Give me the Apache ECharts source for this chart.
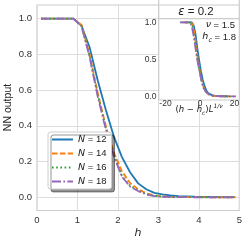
<!DOCTYPE html>
<html><head><meta charset="utf-8">
<script src="https://cdn.jsdelivr.net/npm/echarts@6/dist/echarts.min.js"></script>
<style>html,body{margin:0;padding:0;background:#fff}#c{width:249px;height:249px}</style>
</head><body><div id="c"></div>
<script>
// ---- data ----
const hValues = [0.1,0.3,0.5,0.7,0.9,1.1,1.3,1.5,1.7,1.9,2.1,2.3,2.5,2.7,2.9,3.1,3.3,3.5,3.7,3.9,4.1,4.3,4.5,4.7,4.9];
const n12 = [1,1,1,1,1,0.96,0.84,0.655,0.49,0.34,0.225,0.14,0.078,0.045,0.025,0.016,0.01,0.007,0.005,0.003,0.002,0.002,0.001,0.001,0.001];
const n14 = [1,1,1,1,1,0.965,0.8,0.585,0.4,0.25,0.145,0.08,0.045,0.022,0.01,0.005,0.003,0.002,0.001,0.001,0.001,0,0,0,0];
const n16 = [1,1,1,1,1,0.962,0.79,0.575,0.39,0.235,0.12,0.065,0.038,0.018,0.008,0.004,0.002,0.001,0.001,0.001,0,0,0,0,0];
const n18 = [1,1,1,1,1,0.958,0.785,0.565,0.38,0.23,0.115,0.06,0.035,0.016,0.007,0.003,0.002,0.001,0.001,0,0,0,0,0,0];
const sizes = [12,14,16,18];
const nu = 1.5;
const hc = 1.8;
const epsilon = 0.2;
const mainXTicks = [0,1,2,3,4,5];
const mainYTicks = [0.0,0.2,0.4,0.6,0.8,1.0];
const insetXTicks = [-20,0,20];
const insetYTicks = [0.0,0.5,1.0];

const allY = [n12,n14,n16,n18];
const colors = ['#1f77b4','#ff7f0e','#2ca02c','#9467bd'];
const LW = 1.8;
const dashes = ['solid',[5.5,2.4],[1.6,2.6],[9,2.4,1.6,2.4]];
const FF = 'Liberation Sans, Arial, sans-serif';
const MF = 'DejaVu Sans';

const series = [];
sizes.forEach((L,i)=>{
  series.push({
    name:'N'+L, type:'line', xAxisIndex:1, yAxisIndex:1,
    data: hValues.map((h,k)=>[h, allY[i][k]]),
    symbol:'none', showSymbol:false, clip:false, z:2,
    lineStyle:{color:colors[i], width:LW, type:dashes[i]}, itemStyle:{color:colors[i]}
  });
});
sizes.forEach((L,i)=>{
  const s = Math.pow(L, 1/nu);
  series.push({
    name:'N'+L, type:'line', xAxisIndex:2, yAxisIndex:2,
    data: hValues.map((h,k)=>[(h-hc)*s, allY[i][k]]),
    symbol:'none', showSymbol:false, clip:false, z:10,
    lineStyle:{color:colors[i], width:LW, type:dashes[i]}, itemStyle:{color:colors[i]}
  });
});

const chart = echarts.init(document.getElementById('c'), null, {renderer:'canvas'});
chart.setOption({
  animation:false,
  backgroundColor:'#fff',
  grid:[
    {left:37, right:9.7, top:5, bottom:38.5, show:true, borderColor:'#cccccc', borderWidth:1.2},
    {left:37, right:9.7, top:18.7, bottom:51.7},
    {left:165.5, right:14.5, top:22.4, bottom:152.7}
  ],
  xAxis:[
    {gridIndex:0, type:'value', min:mainXTicks[0], max:mainXTicks[mainXTicks.length-1], interval:1,
     axisLine:{show:false}, axisTick:{show:false},
     splitLine:{lineStyle:{color:'#dddddd', width:1}},
     axisLabel:{fontSize:9.5, color:'#333', margin:5, fontFamily:FF}},
    {gridIndex:1, type:'value', min:0, max:5, show:false},
    {gridIndex:2, type:'value', min:insetXTicks[0], max:insetXTicks[2], interval:20, z:10,
     axisLine:{show:false}, axisTick:{show:false}, splitLine:{show:false},
     axisLabel:{fontSize:8.5, color:'#333', margin:2.5, fontFamily:FF}}
  ],
  yAxis:[
    {gridIndex:0, type:'value', min:0, max:1, show:false},
    {gridIndex:1, type:'value', min:mainYTicks[0], max:mainYTicks[5], interval:0.2,
     axisLine:{show:false}, axisTick:{show:false},
     splitLine:{lineStyle:{color:'#dddddd', width:1}},
     axisLabel:{fontSize:9.5, color:'#333', margin:5, fontFamily:FF, formatter:v=>v.toFixed(1)}},
    {gridIndex:2, type:'value', min:insetYTicks[0], max:insetYTicks[2], interval:0.5, z:10,
     axisLine:{show:false}, axisTick:{show:false}, splitLine:{show:false},
     axisLabel:{fontSize:8.5, color:'#333', margin:9, fontFamily:FF, formatter:v=>v.toFixed(1)}}
  ],
  legend:{
    orient:'vertical', left:48, top:132, padding:[2,5,2,3], itemGap:3,
    itemWidth:21, itemHeight:10, backgroundColor:'#fff', borderColor:'#cccccc', borderWidth:1,
    borderRadius:2.5, shadowColor:'rgba(0,0,0,0.42)', shadowOffsetX:3, shadowOffsetY:3, shadowBlur:0,
    itemStyle:{opacity:0},
    data: sizes.map(L=>'N'+L),
    formatter: n => '{i|N} = ' + n.slice(1),
    textStyle:{fontSize:9.5, color:'#222', fontFamily:FF, lineHeight:11,
      rich:{i:{fontStyle:'italic', fontFamily:MF, fontSize:9.5, lineHeight:11}}}
  },
  graphic:[
    {type:'rect', z:5, shape:{x:158.7, y:-2, width:80.6, height:102}, style:{fill:'#fff', stroke:'#cccccc', lineWidth:1.2}},
    {type:'line', z:6, shape:{x1:158.7, y1:5, x2:239.3, y2:5}, style:{stroke:'#cccccc', lineWidth:1.2}},
    {type:'line', z:6, shape:{x1:158.7, y1:18.7, x2:239.3, y2:18.7}, style:{stroke:'#cccccc', lineWidth:1.2}},
    {type:'text', z:11, x:196, y:12, style:{text:'{i|ε} = '+epsilon.toFixed(1), align:'center', verticalAlign:'middle',
      fontSize:11.5, fontFamily:FF, fill:'#222', rich:{i:{fontStyle:'italic', fontFamily:MF, fontSize:11.5}}}},
    {type:'text', z:11, x:235, y:25, style:{text:'{i|ν} = '+nu.toFixed(1), align:'right', verticalAlign:'middle',
      fontSize:9.5, fontFamily:FF, fill:'#222', rich:{i:{fontStyle:'italic', fontFamily:MF, fontSize:9.5}}}},
    {type:'text', z:11, x:236, y:37, style:{text:'{i|h}{s|c} = '+hc.toFixed(1), align:'right', verticalAlign:'middle',
      fontSize:9.5, fontFamily:FF, fill:'#222', lineHeight:13,
      rich:{i:{fontStyle:'italic', fontFamily:MF, fontSize:9.5, lineHeight:13},
            s:{fontStyle:'italic', fontFamily:MF, fontSize:6.5, lineHeight:13, verticalAlign:'bottom'}}}},
    {type:'text', z:11, x:199, y:110, style:{text:'({i|h} − {i|h}{s|c}){i|L}{p|1/ν}', align:'center', verticalAlign:'middle',
      fontSize:8.5, fontFamily:MF, fill:'#222', lineHeight:13,
      rich:{i:{fontStyle:'italic', fontFamily:MF, fontSize:8.5, lineHeight:13},
            s:{fontStyle:'italic', fontFamily:MF, fontSize:6, lineHeight:13, verticalAlign:'bottom'},
            p:{fontStyle:'italic', fontFamily:MF, fontSize:6, lineHeight:13, verticalAlign:'top'}}}},
    {type:'text', x:138, y:233, style:{text:'h', align:'center', verticalAlign:'middle',
      fontSize:11, fontStyle:'italic', fontFamily:MF, fill:'#222'}},
    {type:'text', x:8, y:107.5, rotation:Math.PI/2, style:{text:'NN output', align:'center', verticalAlign:'middle',
      fontSize:10.5, fontFamily:FF, fill:'#222'}}
  ],
  series: series
});
</script></body></html>
